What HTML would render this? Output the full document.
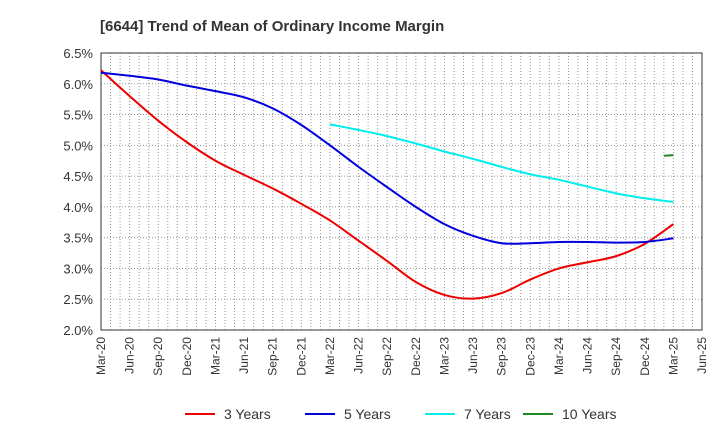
<!DOCTYPE html>
<html><head><meta charset="utf-8"><style>
body{margin:0;background:#fff;font-family:"Liberation Sans",sans-serif}
</style></head><body>
<svg id="c" width="720" height="440" xmlns="http://www.w3.org/2000/svg">
<text x="100" y="31" font-size="15" font-weight="bold" fill="#333">[6644]  Trend of Mean of Ordinary Income Margin</text>
<g id="grid"></g><g id="axes"></g><g id="series"></g><g id="legend"></g>
</svg>
<script>
const xLabels=["Mar-20","Jun-20","Sep-20","Dec-20","Mar-21","Jun-21","Sep-21","Dec-21","Mar-22","Jun-22","Sep-22","Dec-22","Mar-23","Jun-23","Sep-23","Dec-23","Mar-24","Jun-24","Sep-24","Dec-24","Mar-25","Jun-25"];
const yTicks=[2.0,2.5,3.0,3.5,4.0,4.5,5.0,5.5,6.0,6.5];
const y3=[6.22,5.8,5.4,5.05,4.75,4.52,4.3,4.05,3.78,3.45,3.12,2.78,2.57,2.51,2.6,2.82,3.0,3.1,3.2,3.4,3.72];
const y5=[6.18,6.13,6.07,5.97,5.88,5.78,5.6,5.33,5.0,4.65,4.32,4.0,3.72,3.53,3.41,3.41,3.43,3.43,3.42,3.43,3.49];
const y7=[5.34,5.25,5.15,5.03,4.9,4.78,4.65,4.53,4.44,4.33,4.22,4.14,4.08];
const y7Start=8;
const y10=[4.83,4.84];
const y10StartMonth=59;
const L=101,R=702,T=53,B=330,months=63;
const X=m=>L+(R-L)*m/months;
const Y=v=>B-(v-2.0)/4.5*(B-T);
const NS="http://www.w3.org/2000/svg";
function mk(tag,attrs,parent){const e=document.createElementNS(NS,tag);for(const k in attrs)e.setAttribute(k,attrs[k]);parent.appendChild(e);return e;}
const grid=document.getElementById('grid'),axes=document.getElementById('axes'),ser=document.getElementById('series'),leg=document.getElementById('legend');
for(let m=1;m<months;m++){const l=mk('line',{x1:X(m),x2:X(m),y1:T,y2:B,stroke:'#999','stroke-dasharray':'1,2','stroke-width':1},grid);

}
yTicks.forEach(v=>{const l=mk('line',{x1:L,x2:R,y1:Y(v),y2:Y(v),stroke:'#999','stroke-dasharray':'1,2'},grid);


const t=mk('text',{x:L-8,y:Y(v)+5,'text-anchor':'end','font-size':13,fill:'#333'},axes);t.textContent=v.toFixed(1)+'%';

});
const fr=mk('rect',{x:L,y:T,width:R-L,height:B-T,fill:'none',stroke:'#333'},axes);


xLabels.forEach((s,i)=>{const x=X(i*3);const t=mk('text',{x:x+4,y:B+7,'text-anchor':'end','font-size':12,fill:'#333',transform:`rotate(-90 ${x+4} ${B+7})`},axes);t.textContent=s;

});
function path(pts){let d=`M${pts[0][0]},${pts[0][1]}`;for(let i=0;i<pts.length-1;i++){const p0=pts[i-1]||pts[i],p1=pts[i],p2=pts[i+1],p3=pts[i+2]||p2;
d+=` C${p1[0]+(p2[0]-p0[0])/6},${p1[1]+(p2[1]-p0[1])/6} ${p2[0]-(p3[0]-p1[0])/6},${p2[1]-(p3[1]-p1[1])/6} ${p2[0]},${p2[1]}`;}return d;}
function draw(vals,startM,step,color,name){const pts=vals.map((v,i)=>[X(startM+i*step),Y(v)]);
const p=mk('path',{d:path(pts),fill:'none',stroke:color,'stroke-width':2},ser);

}
draw(y3,0,3,'#ee0000','line-3-years');
draw(y5,0,3,'#0000dd','line-5-years');
draw(y7,y7Start*3,3,'#00eeee','line-7-years');
draw(y10,y10StartMonth,1,'#228822','line-10-years');
[['3 Years','#ee0000',185],['5 Years','#0000dd',305],['7 Years','#00eeee',425],['10 Years','#228822',523]].forEach(([n,c,x])=>{
const g=mk('g',{},leg);


mk('line',{x1:x,x2:x+30,y1:414,y2:414,stroke:c,'stroke-width':2},g);
const t=mk('text',{x:x+39,y:419,'font-size':14,fill:'#333'},g);t.textContent=n;});
</script>
</body></html>
